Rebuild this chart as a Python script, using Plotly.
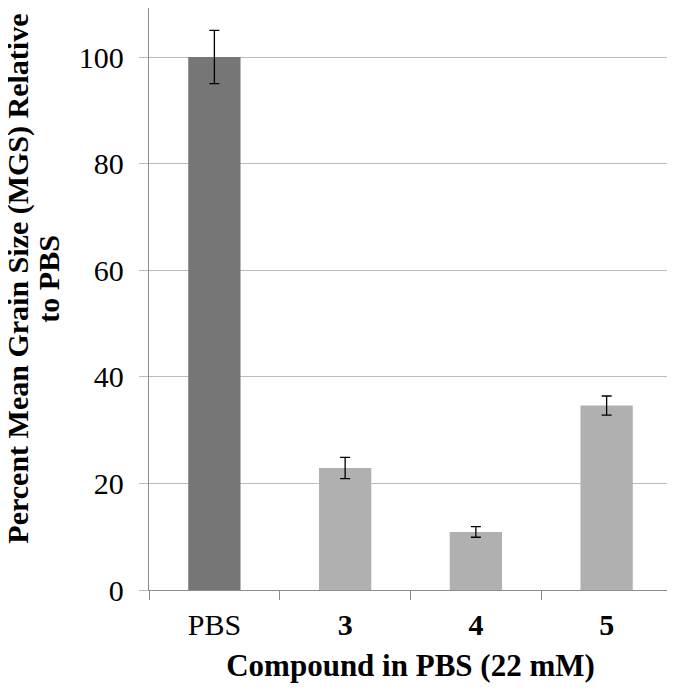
import plotly.graph_objects as go

categories = ["PBS", "<b>3</b>", "<b>4</b>", "<b>5</b>"]
mgs_percent = [100, 22.9, 10.9, 34.6]
mgs_error = [5.0, 2.0, 1.0, 1.8]
bar_colors = ["#767676", "#b0b0b0", "#b0b0b0", "#b0b0b0"]
y_title_lines = ["Percent Mean Grain Size (MGS) Relative", "to PBS"]

serif = "Liberation Serif, Times New Roman, serif"
# page body has an 8px default margin, so the figure is shrunk to fit the window
OFF = 8
W, H = 675 - OFF, 690 - OFF
L, R, T, B = 149 - OFF, 3, 0, 100
plot_w = W - L - R

fig = go.Figure(go.Bar(
    x=categories, y=mgs_percent,
    marker=dict(color=bar_colors, line=dict(width=0)),
    width=0.4,
    error_y=dict(type="data", array=mgs_error, visible=True,
                 color="#000000", thickness=1.3, width=5),
))

# y title drawn as two rotated lines so the line spacing matches
annos = []
for txt, px in zip(y_title_lines, [18, 49]):
    annos.append(dict(
        text="<b>" + txt + "</b>",
        xref="paper", yref="paper", x=(px - OFF - L) / plot_w, y=0.535,
        xanchor="center", yanchor="middle", textangle=-90,
        showarrow=False, font=dict(size=30, family=serif),
    ))

fig.update_layout(
    width=W, height=H,
    margin=dict(l=L, r=R, t=T, b=B),
    plot_bgcolor="white", paper_bgcolor="white",
    showlegend=False,
    font=dict(family=serif, color="#000000"),
    xaxis=dict(
        automargin=False,
        showline=True, linecolor="#8c8c8c", linewidth=1.3,
        ticks="outside", tickson="boundaries", ticklen=9, tickcolor="#8c8c8c",
        tickfont=dict(size=30), ticklabelstandoff=8,
        title=dict(text="<b>Compound in PBS (22 mM)</b>", font=dict(size=31), standoff=14),
    ),
    yaxis=dict(
        automargin=False,
        range=[0, 109.2], tickvals=[0, 20, 40, 60, 80, 100],
        showline=True, linecolor="#8c8c8c", linewidth=1.3,
        showgrid=True, gridcolor="#bcbcbc", gridwidth=1.3,
        ticks="outside", ticklen=9, tickcolor="#bcbcbc",
        tickfont=dict(size=30), ticklabelstandoff=9,
        zeroline=False,
    ),
    annotations=annos,
)

fig.write_html("out.html")
